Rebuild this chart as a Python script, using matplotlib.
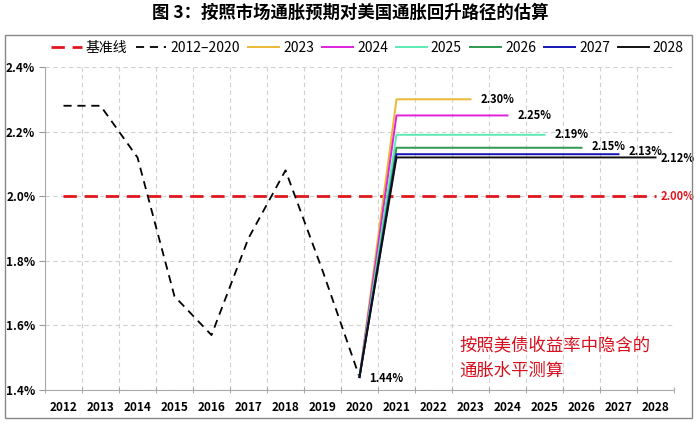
import matplotlib
matplotlib.use("Agg")
import numpy as np
import matplotlib.pyplot as plt
from matplotlib.patches import Rectangle
from matplotlib.lines import Line2D

plt.rcParams['font.family'] = ['Noto Sans CJK SC', 'DejaVu Sans']

years = [str(y) for y in range(2012, 2029)]
hist_years = years[:9]
hist_vals = [2.28, 2.28, 2.12, 1.69, 1.57, 1.87, 2.08, 1.77, 1.44]
baseline = 2.00
proj_labels = ['2023', '2024', '2025', '2026', '2027', '2028']
proj_vals = [2.30, 2.25, 2.19, 2.15, 2.13, 2.12]
proj_colors = ['#EBB935', '#E020DC', '#5CEBB4', '#2E9A4E', '#1414B4', '#111111']
note = "按照美债收益率中隐含的\n通胀水平测算"

idx = {y: i for i, y in enumerate(years)}

fig = plt.figure(figsize=(7, 4.25), dpi=100)
ax = fig.add_axes([45 / 700, 1 - 390 / 425, (674 - 45) / 700, (390 - 67) / 425])

# baseline
ax.plot(range(len(years)), [baseline] * len(years), color='#E0161E', lw=2.0,
        dashes=(4.8, 2.8), zorder=3)
# history
ax.plot([idx[y] for y in hist_years], hist_vals, color='black', lw=1.3,
        dashes=(4.5, 3.2), zorder=3)
# projections
start = idx['2020']
for lab, v, c in zip(proj_labels, proj_vals, proj_colors):
    xs = [start] + list(range(idx['2021'], idx[lab] + 1))
    ys = [hist_vals[-1]] + [v] * (len(xs) - 1)
    ax.plot(xs, ys, color=c, lw=1.4, zorder=4)

# value labels
dx = {'2028': 0.14}
dy = {'2026': 0.005, '2027': 0.007, '2028': -0.003}
for lab, v in zip(proj_labels, proj_vals):
    ax.text(idx[lab] + dx.get(lab, 0.27), v + dy.get(lab, 0), f"{v:.2f}%", fontsize=8,
            fontweight='bold', va='center', ha='left', zorder=6)
ax.text(idx['2028'] + 0.13, baseline, f"{baseline:.2f}%", fontsize=8,
        fontweight='bold', va='center', ha='left', color='#E0161E')
ax.text(start + 0.25, hist_vals[-1] - 0.003, f"{hist_vals[-1]:.2f}%", fontsize=8,
        fontweight='bold', va='center', ha='left')

ax.text(idx['2022'] + 0.7, 1.566, note, fontsize=12.5, color='#D8101E',
        va='top', ha='left', linespacing=1.5)

ax.set_xlim(-0.5, len(years) - 0.5)
ax.set_ylim(1.4, 2.4)
ax.set_xticks(range(len(years)))
ax.set_xticklabels(years, fontsize=8.5, fontweight='bold')
ax.set_xticks(np.arange(-0.5, len(years) + 0.5, 1), minor=True)
ax.tick_params(axis='x', which='major', length=0, pad=8)
ax.tick_params(axis='x', which='minor', length=5, direction='inout', color='#999999')
yt = np.arange(1.4, 2.41, 0.2)
ax.set_yticks(yt)
ax.set_yticklabels([f"{t:.1f}%" for t in yt], fontsize=8.5, fontweight='bold')
ax.tick_params(axis='y', length=4, direction='out', color='#999999', pad=3)
ax.grid(True, axis='y', which='major', color='#D0D0D0', ls=(0, (4, 3)), lw=0.8)
ax.grid(True, axis='x', which='minor', color='#D0D0D0', ls=(0, (4, 3)), lw=0.8)
ax.grid(False, axis='x', which='major')
for s in ['top', 'right']:
    ax.spines[s].set_visible(False)
for s in ['left', 'bottom']:
    ax.spines[s].set_color('#AAAAAA')

handles = [Line2D([], [], color='#E0161E', lw=2.0, dashes=(4.8, 2.8)),
           Line2D([], [], color='black', lw=1.3, dashes=(4.5, 3.2))]
handles += [Line2D([], [], color=c, lw=1.4) for c in proj_colors]
labels = ['基准线', '2012–2020'] + proj_labels
fig.legend(handles, labels, loc='center', bbox_to_anchor=(0.525, 1 - 48 / 425),
           ncol=8, frameon=False, fontsize=10, handlelength=2.2,
           columnspacing=0.6, handletextpad=0.3)

fig.patches.append(Rectangle((5 / 700, 1 - 418 / 425), 687 / 700, 383 / 425,
                             transform=fig.transFigure, fill=False,
                             edgecolor='#888888', lw=1.0))
fig.text(0.5, 1 - 13 / 425, "图 3：按照市场通胀预期对美国通胀回升路径的估算",
         ha='center', va='center', fontsize=12.5, fontweight='bold')

fig.savefig("out.png", dpi=100)
